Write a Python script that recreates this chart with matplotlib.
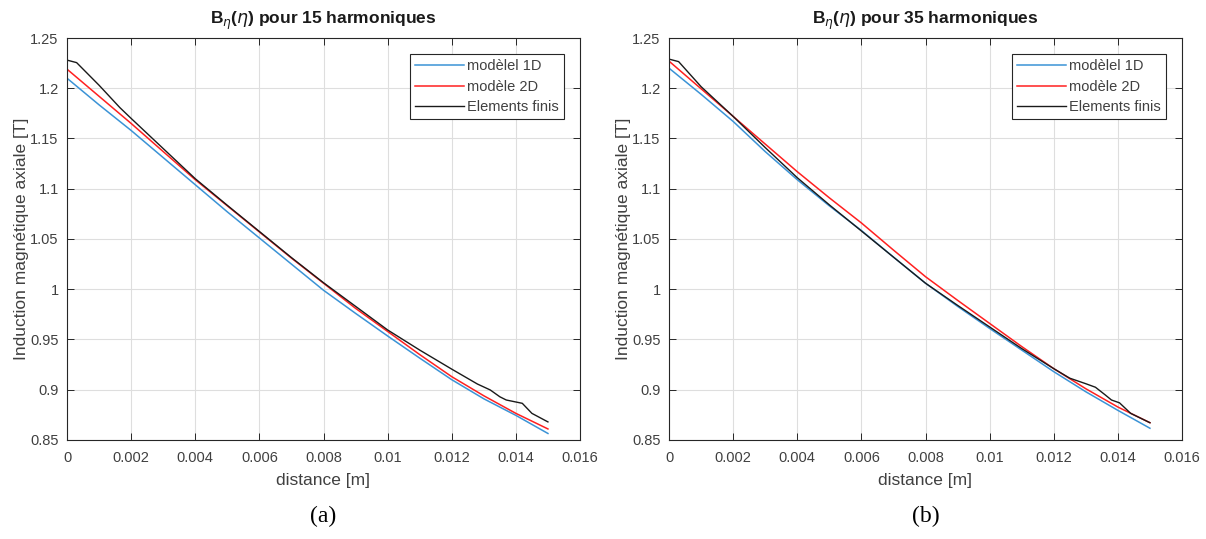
"""Axial magnetic induction: 1D / 2D models vs finite elements."""

import matplotlib
matplotlib.use("Agg")
import matplotlib.pyplot as plt
from matplotlib.ticker import FuncFormatter, MultipleLocator

# --- data --------------------------------------------------------------
x_grid = [0.000, 0.001, 0.002, 0.003, 0.004, 0.005, 0.006, 0.007,
          0.008, 0.009, 0.010, 0.011, 0.012, 0.013, 0.014, 0.015]

# (a) 15 harmonics
b1d_15 = [1.210, 1.1835, 1.158, 1.131, 1.104, 1.077, 1.051, 1.025,
          0.999, 0.976, 0.9535, 0.9315, 0.910, 0.891, 0.8745, 0.8565]
b2d_15 = [1.219, 1.192, 1.165, 1.137, 1.109, 1.083, 1.057, 1.031,
          1.006, 0.981, 0.958, 0.935, 0.913, 0.894, 0.8765, 0.861]
x_fe_15 = [0.000, 0.0003, 0.001, 0.00165, 0.002, 0.003, 0.004, 0.005,
           0.006, 0.007, 0.008, 0.009, 0.010, 0.011, 0.012, 0.0128,
           0.0132, 0.0135, 0.0137, 0.0142, 0.0145, 0.015]
bfe_15 = [1.228, 1.2255, 1.203, 1.1807, 1.170, 1.140, 1.110, 1.0835,
          1.0575, 1.0315, 1.0065, 0.983, 0.9595, 0.9395, 0.9205, 0.9057,
          0.8998, 0.893, 0.8898, 0.8865, 0.8765, 0.868]

# (b) 35 harmonics
b1d_35 = [1.220, 1.194, 1.167, 1.137, 1.109, 1.083, 1.0585, 1.032,
          1.006, 0.983, 0.961, 0.9395, 0.918, 0.898, 0.8795, 0.8617]
b2d_35 = [1.227, 1.1995, 1.172, 1.1445, 1.117, 1.091, 1.066, 1.039,
          1.0125, 0.989, 0.966, 0.943, 0.921, 0.901, 0.8828, 0.8672]
x_fe_35 = [0.000, 0.0003, 0.001, 0.002, 0.003, 0.004, 0.005, 0.006,
           0.007, 0.008, 0.009, 0.010, 0.011, 0.012, 0.0125, 0.0130,
           0.0133, 0.0136, 0.0138, 0.01405, 0.0144, 0.015]
bfe_35 = [1.229, 1.2265, 1.2016, 1.172, 1.141, 1.111, 1.084, 1.058,
          1.032, 1.006, 0.984, 0.9625, 0.941, 0.921, 0.9115, 0.906,
          0.9025, 0.895, 0.8898, 0.887, 0.8765, 0.8672]

labels = ["modèlel 1D", "modèle 2D", "Elements finis"]
titles = [r"B$_{\eta}$($\eta$) pour 15 harmoniques",
          r"B$_{\eta}$($\eta$) pour 35 harmoniques"]
captions = ["(a)", "(b)"]

c_1d = "#3b93d6"
c_2d = "#ff2020"
c_fe = "#1a1a1a"
axcol = "#262626"
txtcol = "#404040"

plt.rcParams["font.family"] = ["Liberation Sans", "DejaVu Sans"]
plt.rcParams["mathtext.fontset"] = "dejavusans"

fig = plt.figure(figsize=(12.06, 5.39), dpi=100)
ax_a = fig.add_axes([67 / 1206, 1 - 440 / 539, 513 / 1206, 402 / 539])
ax_b = fig.add_axes([669 / 1206, 1 - 440 / 539, 513 / 1206, 402 / 539])

fmt = FuncFormatter(lambda v, p: f"{v:.4g}" if abs(v) > 1e-12 else "0")

sets = [(ax_a, b1d_15, b2d_15, x_fe_15, bfe_15),
        (ax_b, b1d_35, b2d_35, x_fe_35, bfe_35)]

for i, (ax, b1, b2, xf, bf) in enumerate(sets):
    ax.plot(x_grid, b1, color=c_1d, lw=1.1, label=labels[0])
    ax.plot(x_grid, b2, color=c_2d, lw=1.1, label=labels[1])
    ax.plot(xf, bf, color=c_fe, lw=1.0, label=labels[2])

    ax.set_xlim(0, 0.016)
    ax.set_ylim(0.85, 1.25)
    ax.xaxis.set_major_locator(MultipleLocator(0.002))
    ax.yaxis.set_major_locator(MultipleLocator(0.05))
    ax.xaxis.set_major_formatter(fmt)
    ax.yaxis.set_major_formatter(fmt)
    ax.grid(True, color="#dedede", lw=0.8)
    ax.set_axisbelow(True)
    ax.tick_params(direction="in", length=5, width=0.7, colors=axcol,
                   labelcolor=txtcol, labelsize=10.5, top=True, right=True)
    ax.tick_params(axis="x", pad=8)
    ax.tick_params(axis="y", pad=6)
    for s in ax.spines.values():
        s.set_color(axcol)
        s.set_linewidth(0.8)

    ax.set_title(titles[i], fontsize=12.5, fontweight="bold", color="#1a1a1a",
                 pad=10)
    ax.set_xlabel("distance [m]", fontsize=12.5, color=txtcol, labelpad=6)
    ax.set_ylabel("Induction magnétique axiale [T]", fontsize=12.5,
                  color=txtcol, labelpad=1)

    leg = ax.legend(loc="upper right", fontsize=10.5, handlelength=3.4,
                    handletextpad=0.2, borderpad=0.35, labelspacing=0.45,
                    fancybox=False, framealpha=1, borderaxespad=1.1)
    leg.get_frame().set_edgecolor(axcol)
    leg.get_frame().set_linewidth(0.8)
    for t in leg.get_texts():
        t.set_color(txtcol)

    # sub-caption under each panel
    fig.text((ax.get_position().x0 + ax.get_position().x1) / 2,
             1 - 516 / 539, captions[i], ha="center", va="center",
             fontsize=17, family="Liberation Serif")

fig.savefig("out.png", dpi=100)
